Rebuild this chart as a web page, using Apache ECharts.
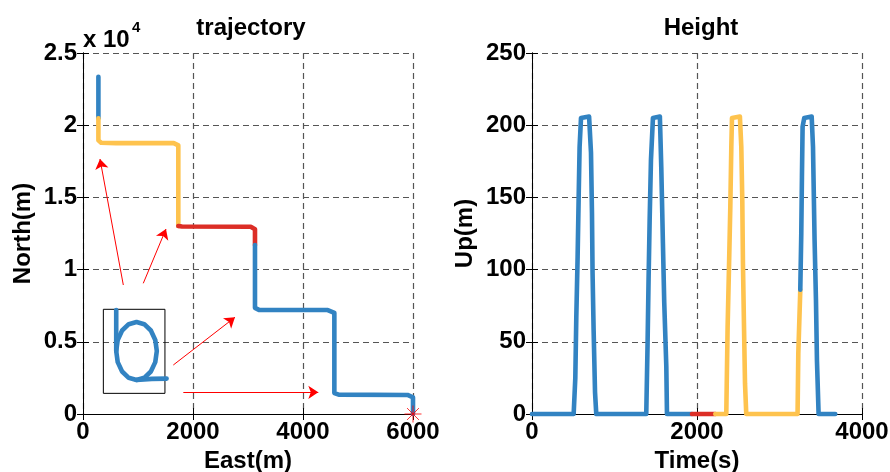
<!DOCTYPE html>
<html>
<head>
<meta charset="utf-8">
<script src="https://cdn.jsdelivr.net/npm/echarts@6/dist/echarts.min.js"></script>
<style>
    html, body { margin: 0; padding: 0; background: #fff; }
    #main { width: 890px; height: 472px; }
</style>
</head>
<body>
<div id="main"></div>
<script>
// trajectory (East m, North m), one array per colour segment
var trajBlueTop = [[280, 23360], [280, 20480]];
var trajYellow = [[280, 20480], [280, 18950], [330, 18780], [600, 18760], [1650, 18760], [1733, 18600], [1733, 13020]];
var trajRed = [[1733, 13020], [1800, 12980], [3050, 12970], [3127, 12800], [3127, 11700]];
var trajBlueEnd = [[3127, 11700], [3127, 7350], [3200, 7210], [4450, 7200], [4570, 7000], [4570, 1450],
    [4650, 1340], [5900, 1320], [6000, 1150], [6000, 0]];
var endPoint = [[6000, 0]];

// inset box and "b" glyph
var insetBox = [[370, 7250], [1490, 7250], [1490, 1430], [370, 1430], [370, 7250]];
var glyphStem = [[604, 7200], [604, 4363]];
var glyphLoop = [[604, 4363], [631, 3594], [711, 2943], [831, 2507], [973, 2355], [1114, 2507], [1234, 2943],
    [1314, 3594], [1342, 4363], [1314, 5131], [1234, 5782], [1114, 6219], [973, 6371], [831, 6219],
    [711, 5782], [631, 5131], [604, 4363], [631, 3594], [711, 2943], [831, 2507], [973, 2355]];
var glyphTail = [[973, 2355], [1250, 2430], [1520, 2450]];

// red arrows [from, to]
var arrows = [
    [[733, 8933], [309, 17659]],
    [[1096, 9051], [1509, 12811]],
    [[1642, 3393], [2763, 6697]],
    [[1824, 1503], [4278, 1503]]
];

// height (Time s, Up m)
var heightBlue1 = [[0, 0], [505, 0], [525, 25], [537, 67], [553, 109], [565, 148], [577, 185], [594, 205],
    [600, 206], [692, 206], [698, 205], [715, 181], [727, 139], [734, 98], [747, 58], [764, 15], [779, 0],
    [1385, 0], [1401, 49], [1413, 93], [1426, 134], [1442, 176], [1466, 205], [1472, 206], [1550, 206],
    [1555, 205], [1567, 171], [1587, 118], [1603, 77], [1628, 33], [1636, 0], [1939, 0]];
var heightRed = [[1939, 0], [2222, 0]];
var heightYellow = [[2222, 0], [2355, 0], [2360, 19], [2371, 60], [2388, 102], [2404, 144], [2416, 185],
    [2424, 205], [2430, 206], [2520, 206], [2525, 205], [2537, 185], [2549, 148], [2557, 104], [2569, 63],
    [2582, 21], [2597, 0], [3219, 0], [3228, 42], [3252, 86]];
var heightBlue2 = [[3252, 86], [3264, 125], [3272, 164], [3280, 199], [3300, 205], [3306, 206], [3390, 206],
    [3394, 205], [3406, 185], [3425, 121], [3442, 79], [3454, 37], [3474, 0], [3676, 0]];

var blue = '#3283C2';
var yellow = '#FEC34E';
var red = '#DC2E26';
var font = "'Liberation Sans', Arial, sans-serif";

var chart = echarts.init(document.getElementById('main'));

function mainX(idx, max, name) {
    return {
        gridIndex: idx, type: 'value', min: 0, max: max, interval: 2000,
        name: name, nameLocation: 'middle', nameGap: 29,
        nameTextStyle: { color: '#000', fontFamily: font, fontWeight: 'bold', fontSize: 24 },
        axisLine: { lineStyle: { color: '#000', width: 1 } },
        axisTick: { inside: true, length: 6, lineStyle: { color: '#000' } },
        axisLabel: { color: '#000', fontFamily: font, fontWeight: 'bold', fontSize: 24, margin: 6,
            formatter: function (v) { return String(v); } },
        splitLine: { show: true, lineStyle: { color: '#555', type: [6, 4], width: 1.2 } }
    };
}
function mainY(idx, max, interval, name, gap, fmt) {
    return {
        gridIndex: idx, type: 'value', min: 0, max: max, interval: interval,
        name: name, nameLocation: 'middle', nameGap: gap,
        nameTextStyle: { color: '#000', fontFamily: font, fontWeight: 'bold', fontSize: 24 },
        axisLine: { show: true, lineStyle: { color: '#000', width: 1 } },
        axisTick: { show: true, inside: true, length: 6, lineStyle: { color: '#000' } },
        axisLabel: { color: '#000', fontFamily: font, fontWeight: 'bold', fontSize: 24, margin: 6, formatter: fmt },
        splitLine: { show: true, lineStyle: { color: '#555', type: [6, 4], width: 1.2 } }
    };
}
// opposite side of the box, ticks only
function sideAxis(idx, pos, max, interval) {
    return {
        gridIndex: idx, type: 'value', position: pos, min: 0, max: max, interval: interval,
        axisLine: { show: true, lineStyle: { color: '#000', width: 1 } },
        axisTick: { show: true, inside: true, length: 6, lineStyle: { color: '#000' } },
        axisLabel: { show: false },
        splitLine: { show: false }
    };
}

function line(data, color, xi, yi, extra) {
    var s = {
        type: 'line', data: data, xAxisIndex: xi, yAxisIndex: yi,
        showSymbol: false, symbol: 'none', clip: false, animation: false,
        lineStyle: { color: color, width: 4.6, cap: 'round', join: 'round' }
    };
    for (var k in extra) s[k] = extra[k];
    return s;
}

var option = {
    backgroundColor: '#fff',
    animation: false,
    title: [
        { text: 'trajectory', left: 246, top: 11, textAlign: 'center',
          textStyle: { color: '#000', fontFamily: font, fontWeight: 'bold', fontSize: 24 } },
        { text: 'Height', left: 696, top: 11, textAlign: 'center',
          textStyle: { color: '#000', fontFamily: font, fontWeight: 'bold', fontSize: 24 } }
    ],
    graphic: [
        { type: 'text', left: 83, top: 28, style: { text: 'x 10', fill: '#000', font: 'bold 24px ' + font } },
        { type: 'text', left: 132, top: 20, style: { text: '4', fill: '#000', font: 'bold 15px ' + font } }
    ],
    grid: [
        { left: 83, top: 53, width: 330, height: 361, outerBoundsMode: 'none', containLabel: false },
        { left: 532, top: 53, width: 330, height: 361, outerBoundsMode: 'none', containLabel: false }
    ],
    xAxis: [
        mainX(0, 6000, 'East(m)'),
        sideAxis(0, 'top', 6000, 2000),
        mainX(1, 4000, 'Time(s)'),
        sideAxis(1, 'top', 4000, 2000)
    ],
    yAxis: [
        mainY(0, 25000, 5000, 'North(m)', 48, function (v) { return String(v / 10000); }),
        sideAxis(0, 'right', 25000, 5000),
        mainY(1, 250, 50, 'Up(m)', 55, function (v) { return String(v); }),
        sideAxis(1, 'right', 250, 50)
    ],
    series: [
        line(insetBox, '#000', 0, 0, { lineStyle: { color: '#000', width: 1 } }),
        line(glyphStem, blue, 0, 0),
        line(glyphLoop, blue, 0, 0),
        line(glyphTail, blue, 0, 0),
        {
            type: 'lines', coordinateSystem: 'cartesian2d', xAxisIndex: 0, yAxisIndex: 0,
            symbol: ['none', 'arrow'], symbolSize: 10, animation: false,
            lineStyle: { color: '#FF0000', width: 1, opacity: 1 },
            data: arrows.map(function (a) { return { coords: a }; })
        },
        line(trajBlueTop, blue, 0, 0),
        line(trajYellow, yellow, 0, 0),
        line(trajRed, red, 0, 0),
        line(trajBlueEnd, blue, 0, 0),
        {
            type: 'scatter', xAxisIndex: 0, yAxisIndex: 0, data: endPoint, clip: false,
            symbol: 'path://M0,-10L0,10M-10,0L10,0M-7,-7L7,7M-7,7L7,-7', symbolSize: 17,
            itemStyle: { color: 'transparent', borderColor: '#FF0000', borderWidth: 1 },
            z: 5
        },
        line(heightBlue1, blue, 2, 2),
        line(heightRed, red, 2, 2),
        line(heightYellow, yellow, 2, 2),
        line(heightBlue2, blue, 2, 2)
    ]
};
chart.setOption(option);
</script>
</body>
</html>
